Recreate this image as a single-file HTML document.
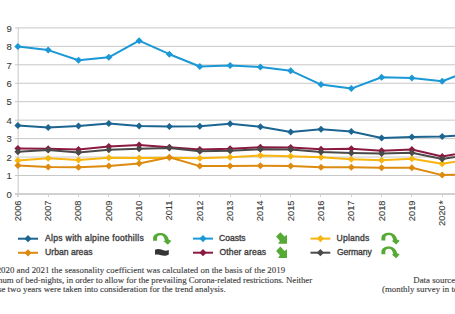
<!DOCTYPE html>
<html><head><meta charset="utf-8"><style>
html,body{margin:0;padding:0;background:#fff;}
body{width:455px;height:314px;overflow:hidden;position:relative;}
svg{position:absolute;left:0;top:0;}
.ax text{font-family:"Liberation Sans",sans-serif;font-size:9.3px;fill:#383838;stroke:#383838;stroke-width:0.1px;}
.ax text.yl{font-size:9.5px;}
.lg text{font-family:"Liberation Sans",sans-serif;font-size:8.6px;fill:#3e3e3e;stroke:#3e3e3e;stroke-width:0.35px;}
.fn{position:absolute;font-family:"Liberation Serif",serif;font-size:8.3px;color:#404040;white-space:nowrap;line-height:9.5px;}
</style></head><body>
<svg width="455" height="314" viewBox="0 0 455 314">
<g class="grid"><line x1="15" y1="175.5" x2="455" y2="175.5" stroke="#c8c8c8" stroke-width="1"/><line x1="15" y1="157.05" x2="455" y2="157.05" stroke="#c8c8c8" stroke-width="1"/><line x1="15" y1="138.6" x2="455" y2="138.6" stroke="#c8c8c8" stroke-width="1"/><line x1="15" y1="120.15" x2="455" y2="120.15" stroke="#c8c8c8" stroke-width="1"/><line x1="15" y1="101.7" x2="455" y2="101.7" stroke="#c8c8c8" stroke-width="1"/><line x1="15" y1="83.25" x2="455" y2="83.25" stroke="#c8c8c8" stroke-width="1"/><line x1="15" y1="64.8" x2="455" y2="64.8" stroke="#c8c8c8" stroke-width="1"/><line x1="15" y1="46.35" x2="455" y2="46.35" stroke="#c8c8c8" stroke-width="1"/><line x1="15" y1="27.9" x2="455" y2="27.9" stroke="#c8c8c8" stroke-width="1"/></g>
<line x1="18.2" y1="28" x2="18.2" y2="197" stroke="#c8c8c8" stroke-width="1"/>
<line x1="15" y1="194" x2="455" y2="194" stroke="#d0d0d0" stroke-width="2"/>
<g><line x1="17.5" y1="193" x2="17.5" y2="197" stroke="#d0d0d0" stroke-width="1"/><line x1="48.5" y1="193" x2="48.5" y2="197" stroke="#d0d0d0" stroke-width="1"/><line x1="78.5" y1="193" x2="78.5" y2="197" stroke="#d0d0d0" stroke-width="1"/><line x1="108.5" y1="193" x2="108.5" y2="197" stroke="#d0d0d0" stroke-width="1"/><line x1="139.5" y1="193" x2="139.5" y2="197" stroke="#d0d0d0" stroke-width="1"/><line x1="169.5" y1="193" x2="169.5" y2="197" stroke="#d0d0d0" stroke-width="1"/><line x1="199.5" y1="193" x2="199.5" y2="197" stroke="#d0d0d0" stroke-width="1"/><line x1="230.5" y1="193" x2="230.5" y2="197" stroke="#d0d0d0" stroke-width="1"/><line x1="260.5" y1="193" x2="260.5" y2="197" stroke="#d0d0d0" stroke-width="1"/><line x1="290.5" y1="193" x2="290.5" y2="197" stroke="#d0d0d0" stroke-width="1"/><line x1="320.5" y1="193" x2="320.5" y2="197" stroke="#d0d0d0" stroke-width="1"/><line x1="351.5" y1="193" x2="351.5" y2="197" stroke="#d0d0d0" stroke-width="1"/><line x1="381.5" y1="193" x2="381.5" y2="197" stroke="#d0d0d0" stroke-width="1"/><line x1="411.5" y1="193" x2="411.5" y2="197" stroke="#d0d0d0" stroke-width="1"/><line x1="442.5" y1="193" x2="442.5" y2="197" stroke="#d0d0d0" stroke-width="1"/><line x1="472.5" y1="193" x2="472.5" y2="197" stroke="#d0d0d0" stroke-width="1"/></g>
<g class="ax"><text class="yl" x="11.7" y="197.6" text-anchor="end">0</text><text class="yl" x="11.7" y="179.2" text-anchor="end">1</text><text class="yl" x="11.7" y="160.7" text-anchor="end">2</text><text class="yl" x="11.7" y="142.3" text-anchor="end">3</text><text class="yl" x="11.7" y="123.8" text-anchor="end">4</text><text class="yl" x="11.7" y="105.4" text-anchor="end">5</text><text class="yl" x="11.7" y="87.0" text-anchor="end">6</text><text class="yl" x="11.7" y="68.5" text-anchor="end">7</text><text class="yl" x="11.7" y="50.0" text-anchor="end">8</text><text class="yl" x="11.7" y="31.6" text-anchor="end">9</text><text transform="translate(20.8,200.5) rotate(-90)" text-anchor="end">2006</text><text transform="translate(51.1,200.5) rotate(-90)" text-anchor="end">2007</text><text transform="translate(81.4,200.5) rotate(-90)" text-anchor="end">2008</text><text transform="translate(111.7,200.5) rotate(-90)" text-anchor="end">2009</text><text transform="translate(142.0,200.5) rotate(-90)" text-anchor="end">2010</text><text transform="translate(172.3,200.5) rotate(-90)" text-anchor="end">2011</text><text transform="translate(202.7,200.5) rotate(-90)" text-anchor="end">2012</text><text transform="translate(233.0,200.5) rotate(-90)" text-anchor="end">2013</text><text transform="translate(263.3,200.5) rotate(-90)" text-anchor="end">2014</text><text transform="translate(293.6,200.5) rotate(-90)" text-anchor="end">2015</text><text transform="translate(323.9,200.5) rotate(-90)" text-anchor="end">2016</text><text transform="translate(354.2,200.5) rotate(-90)" text-anchor="end">2017</text><text transform="translate(384.5,200.5) rotate(-90)" text-anchor="end">2018</text><text transform="translate(414.8,200.5) rotate(-90)" text-anchor="end">2019</text><text transform="translate(445.1,205.3) rotate(-90)" text-anchor="end">2020</text><text transform="translate(446.8,200.4) rotate(-90)" text-anchor="end" style="font-size:10px">*</text></g>
<g><polyline points="17.9,125.4 48.2,127.4 78.5,125.9 108.8,123.5 139.1,125.9 169.4,126.5 199.8,126.2 230.1,123.7 260.4,126.8 290.7,132 321.0,129.2 351.3,131.4 381.6,138.1 411.9,136.9 442.2,136.5 472.5,135.0" fill="none" stroke="#1c6591" stroke-width="2" stroke-linejoin="round"/><path d="M17.9 121.9L21.4 125.4L17.9 128.9L14.4 125.4Z" fill="#1c6591"/><path d="M48.2 123.9L51.7 127.4L48.2 130.9L44.7 127.4Z" fill="#1c6591"/><path d="M78.5 122.4L82.0 125.9L78.5 129.4L75.0 125.9Z" fill="#1c6591"/><path d="M108.8 120.0L112.3 123.5L108.8 127.0L105.3 123.5Z" fill="#1c6591"/><path d="M139.1 122.4L142.6 125.9L139.1 129.4L135.6 125.9Z" fill="#1c6591"/><path d="M169.4 123.0L172.9 126.5L169.4 130.0L165.9 126.5Z" fill="#1c6591"/><path d="M199.8 122.7L203.3 126.2L199.8 129.7L196.3 126.2Z" fill="#1c6591"/><path d="M230.1 120.2L233.6 123.7L230.1 127.2L226.6 123.7Z" fill="#1c6591"/><path d="M260.4 123.3L263.9 126.8L260.4 130.3L256.9 126.8Z" fill="#1c6591"/><path d="M290.7 128.5L294.2 132.0L290.7 135.5L287.2 132.0Z" fill="#1c6591"/><path d="M321.0 125.7L324.5 129.2L321.0 132.7L317.5 129.2Z" fill="#1c6591"/><path d="M351.3 127.9L354.8 131.4L351.3 134.9L347.8 131.4Z" fill="#1c6591"/><path d="M381.6 134.6L385.1 138.1L381.6 141.6L378.1 138.1Z" fill="#1c6591"/><path d="M411.9 133.4L415.4 136.9L411.9 140.4L408.4 136.9Z" fill="#1c6591"/><path d="M442.2 133.0L445.7 136.5L442.2 140.0L438.7 136.5Z" fill="#1c6591"/><path d="M472.5 131.5L476.0 135.0L472.5 138.5L469.0 135.0Z" fill="#1c6591"/><polyline points="17.9,46.5 48.2,50.1 78.5,60.2 108.8,57.3 139.1,40.7 169.4,54.2 199.8,66.5 230.1,65.4 260.4,66.9 290.7,70.7 321.0,84.6 351.3,88.6 381.6,77.2 411.9,77.9 442.2,81.2 472.5,69.7" fill="none" stroke="#1b98d5" stroke-width="2" stroke-linejoin="round"/><path d="M17.9 43.0L21.4 46.5L17.9 50.0L14.4 46.5Z" fill="#1b98d5"/><path d="M48.2 46.6L51.7 50.1L48.2 53.6L44.7 50.1Z" fill="#1b98d5"/><path d="M78.5 56.7L82.0 60.2L78.5 63.7L75.0 60.2Z" fill="#1b98d5"/><path d="M108.8 53.8L112.3 57.3L108.8 60.8L105.3 57.3Z" fill="#1b98d5"/><path d="M139.1 37.2L142.6 40.7L139.1 44.2L135.6 40.7Z" fill="#1b98d5"/><path d="M169.4 50.7L172.9 54.2L169.4 57.7L165.9 54.2Z" fill="#1b98d5"/><path d="M199.8 63.0L203.3 66.5L199.8 70.0L196.3 66.5Z" fill="#1b98d5"/><path d="M230.1 61.9L233.6 65.4L230.1 68.9L226.6 65.4Z" fill="#1b98d5"/><path d="M260.4 63.4L263.9 66.9L260.4 70.4L256.9 66.9Z" fill="#1b98d5"/><path d="M290.7 67.2L294.2 70.7L290.7 74.2L287.2 70.7Z" fill="#1b98d5"/><path d="M321.0 81.1L324.5 84.6L321.0 88.1L317.5 84.6Z" fill="#1b98d5"/><path d="M351.3 85.1L354.8 88.6L351.3 92.1L347.8 88.6Z" fill="#1b98d5"/><path d="M381.6 73.7L385.1 77.2L381.6 80.7L378.1 77.2Z" fill="#1b98d5"/><path d="M411.9 74.4L415.4 77.9L411.9 81.4L408.4 77.9Z" fill="#1b98d5"/><path d="M442.2 77.7L445.7 81.2L442.2 84.7L438.7 81.2Z" fill="#1b98d5"/><path d="M472.5 66.2L476.0 69.7L472.5 73.2L469.0 69.7Z" fill="#1b98d5"/><polyline points="17.9,148.4 48.2,148.79999999999998 78.5,149.5 108.8,146.4 139.1,145.1 169.4,147.2 199.8,149.5 230.1,148.79999999999998 260.4,147.2 290.7,147.5 321.0,149.2 351.3,148.79999999999998 381.6,150.7 411.9,149.6 442.2,156.4 472.5,151.5" fill="none" stroke="#8b1a43" stroke-width="2" stroke-linejoin="round"/><path d="M17.9 144.9L21.4 148.4L17.9 151.9L14.4 148.4Z" fill="#8b1a43"/><path d="M48.2 145.3L51.7 148.8L48.2 152.3L44.7 148.8Z" fill="#8b1a43"/><path d="M78.5 146.0L82.0 149.5L78.5 153.0L75.0 149.5Z" fill="#8b1a43"/><path d="M108.8 142.9L112.3 146.4L108.8 149.9L105.3 146.4Z" fill="#8b1a43"/><path d="M139.1 141.6L142.6 145.1L139.1 148.6L135.6 145.1Z" fill="#8b1a43"/><path d="M169.4 143.7L172.9 147.2L169.4 150.7L165.9 147.2Z" fill="#8b1a43"/><path d="M199.8 146.0L203.3 149.5L199.8 153.0L196.3 149.5Z" fill="#8b1a43"/><path d="M230.1 145.3L233.6 148.8L230.1 152.3L226.6 148.8Z" fill="#8b1a43"/><path d="M260.4 143.7L263.9 147.2L260.4 150.7L256.9 147.2Z" fill="#8b1a43"/><path d="M290.7 144.0L294.2 147.5L290.7 151.0L287.2 147.5Z" fill="#8b1a43"/><path d="M321.0 145.7L324.5 149.2L321.0 152.7L317.5 149.2Z" fill="#8b1a43"/><path d="M351.3 145.3L354.8 148.8L351.3 152.3L347.8 148.8Z" fill="#8b1a43"/><path d="M381.6 147.2L385.1 150.7L381.6 154.2L378.1 150.7Z" fill="#8b1a43"/><path d="M411.9 146.1L415.4 149.6L411.9 153.1L408.4 149.6Z" fill="#8b1a43"/><path d="M442.2 152.9L445.7 156.4L442.2 159.9L438.7 156.4Z" fill="#8b1a43"/><path d="M472.5 148.0L476.0 151.5L472.5 155.0L469.0 151.5Z" fill="#8b1a43"/><polyline points="17.9,160.6 48.2,158.2 78.5,159.9 108.8,157.7 139.1,157.9 169.4,157.7 199.8,158.2 230.1,157.3 260.4,155.6 290.7,156.3 321.0,157.3 351.3,159.2 381.6,160.2 411.9,158.7 442.2,163.7 472.5,159.2" fill="none" stroke="#f8b50f" stroke-width="2" stroke-linejoin="round"/><path d="M17.9 157.1L21.4 160.6L17.9 164.1L14.4 160.6Z" fill="#f8b50f"/><path d="M48.2 154.7L51.7 158.2L48.2 161.7L44.7 158.2Z" fill="#f8b50f"/><path d="M78.5 156.4L82.0 159.9L78.5 163.4L75.0 159.9Z" fill="#f8b50f"/><path d="M108.8 154.2L112.3 157.7L108.8 161.2L105.3 157.7Z" fill="#f8b50f"/><path d="M139.1 154.4L142.6 157.9L139.1 161.4L135.6 157.9Z" fill="#f8b50f"/><path d="M169.4 154.2L172.9 157.7L169.4 161.2L165.9 157.7Z" fill="#f8b50f"/><path d="M199.8 154.7L203.3 158.2L199.8 161.7L196.3 158.2Z" fill="#f8b50f"/><path d="M230.1 153.8L233.6 157.3L230.1 160.8L226.6 157.3Z" fill="#f8b50f"/><path d="M260.4 152.1L263.9 155.6L260.4 159.1L256.9 155.6Z" fill="#f8b50f"/><path d="M290.7 152.8L294.2 156.3L290.7 159.8L287.2 156.3Z" fill="#f8b50f"/><path d="M321.0 153.8L324.5 157.3L321.0 160.8L317.5 157.3Z" fill="#f8b50f"/><path d="M351.3 155.7L354.8 159.2L351.3 162.7L347.8 159.2Z" fill="#f8b50f"/><path d="M381.6 156.7L385.1 160.2L381.6 163.7L378.1 160.2Z" fill="#f8b50f"/><path d="M411.9 155.2L415.4 158.7L411.9 162.2L408.4 158.7Z" fill="#f8b50f"/><path d="M442.2 160.2L445.7 163.7L442.2 167.2L438.7 163.7Z" fill="#f8b50f"/><path d="M472.5 155.7L476.0 159.2L472.5 162.7L469.0 159.2Z" fill="#f8b50f"/><polyline points="17.9,151.7 48.2,150.1 78.5,152.5 108.8,149.79999999999998 139.1,148.79999999999998 169.4,148.1 199.8,151.2 230.1,150.79999999999998 260.4,149.2 290.7,149.5 321.0,152.1 351.3,153.1 381.6,153.6 411.9,152.79999999999998 442.2,159.0 472.5,154.5" fill="none" stroke="#4a4a4a" stroke-width="2" stroke-linejoin="round"/><path d="M17.9 148.2L21.4 151.7L17.9 155.2L14.4 151.7Z" fill="#4a4a4a"/><path d="M48.2 146.6L51.7 150.1L48.2 153.6L44.7 150.1Z" fill="#4a4a4a"/><path d="M78.5 149.0L82.0 152.5L78.5 156.0L75.0 152.5Z" fill="#4a4a4a"/><path d="M108.8 146.3L112.3 149.8L108.8 153.3L105.3 149.8Z" fill="#4a4a4a"/><path d="M139.1 145.3L142.6 148.8L139.1 152.3L135.6 148.8Z" fill="#4a4a4a"/><path d="M169.4 144.6L172.9 148.1L169.4 151.6L165.9 148.1Z" fill="#4a4a4a"/><path d="M199.8 147.7L203.3 151.2L199.8 154.7L196.3 151.2Z" fill="#4a4a4a"/><path d="M230.1 147.3L233.6 150.8L230.1 154.3L226.6 150.8Z" fill="#4a4a4a"/><path d="M260.4 145.7L263.9 149.2L260.4 152.7L256.9 149.2Z" fill="#4a4a4a"/><path d="M290.7 146.0L294.2 149.5L290.7 153.0L287.2 149.5Z" fill="#4a4a4a"/><path d="M321.0 148.6L324.5 152.1L321.0 155.6L317.5 152.1Z" fill="#4a4a4a"/><path d="M351.3 149.6L354.8 153.1L351.3 156.6L347.8 153.1Z" fill="#4a4a4a"/><path d="M381.6 150.1L385.1 153.6L381.6 157.1L378.1 153.6Z" fill="#4a4a4a"/><path d="M411.9 149.3L415.4 152.8L411.9 156.3L408.4 152.8Z" fill="#4a4a4a"/><path d="M442.2 155.5L445.7 159.0L442.2 162.5L438.7 159.0Z" fill="#4a4a4a"/><path d="M472.5 151.0L476.0 154.5L472.5 158.0L469.0 154.5Z" fill="#4a4a4a"/><polyline points="17.9,165.4 48.2,166.9 78.5,167.2 108.8,166.1 139.1,163.6 169.4,157.3 199.8,166.1 230.1,166.1 260.4,165.8 290.7,166.1 321.0,167.2 351.3,167.2 381.6,167.7 411.9,167.8 442.2,175.1 472.5,174.1" fill="none" stroke="#dd8a10" stroke-width="2" stroke-linejoin="round"/><path d="M17.9 161.9L21.4 165.4L17.9 168.9L14.4 165.4Z" fill="#dd8a10"/><path d="M48.2 163.4L51.7 166.9L48.2 170.4L44.7 166.9Z" fill="#dd8a10"/><path d="M78.5 163.7L82.0 167.2L78.5 170.7L75.0 167.2Z" fill="#dd8a10"/><path d="M108.8 162.6L112.3 166.1L108.8 169.6L105.3 166.1Z" fill="#dd8a10"/><path d="M139.1 160.1L142.6 163.6L139.1 167.1L135.6 163.6Z" fill="#dd8a10"/><path d="M169.4 153.8L172.9 157.3L169.4 160.8L165.9 157.3Z" fill="#dd8a10"/><path d="M199.8 162.6L203.3 166.1L199.8 169.6L196.3 166.1Z" fill="#dd8a10"/><path d="M230.1 162.6L233.6 166.1L230.1 169.6L226.6 166.1Z" fill="#dd8a10"/><path d="M260.4 162.3L263.9 165.8L260.4 169.3L256.9 165.8Z" fill="#dd8a10"/><path d="M290.7 162.6L294.2 166.1L290.7 169.6L287.2 166.1Z" fill="#dd8a10"/><path d="M321.0 163.7L324.5 167.2L321.0 170.7L317.5 167.2Z" fill="#dd8a10"/><path d="M351.3 163.7L354.8 167.2L351.3 170.7L347.8 167.2Z" fill="#dd8a10"/><path d="M381.6 164.2L385.1 167.7L381.6 171.2L378.1 167.7Z" fill="#dd8a10"/><path d="M411.9 164.3L415.4 167.8L411.9 171.3L408.4 167.8Z" fill="#dd8a10"/><path d="M442.2 171.6L445.7 175.1L442.2 178.6L438.7 175.1Z" fill="#dd8a10"/><path d="M472.5 170.6L476.0 174.1L472.5 177.6L469.0 174.1Z" fill="#dd8a10"/></g>
<g class="lg"><line x1="18" y1="238.7" x2="38" y2="238.7" stroke="#1c6591" stroke-width="2"/><path d="M28.0 235.1L31.6 238.7L28.0 242.29999999999998L24.4 238.7Z" fill="#1c6591"/><line x1="18" y1="252.8" x2="38" y2="252.8" stroke="#dd8a10" stroke-width="2"/><path d="M28.0 249.20000000000002L31.6 252.8L28.0 256.40000000000003L24.4 252.8Z" fill="#dd8a10"/><line x1="193" y1="238.6" x2="213" y2="238.6" stroke="#1b98d5" stroke-width="2"/><path d="M203.0 235.0L206.6 238.6L203.0 242.2L199.4 238.6Z" fill="#1b98d5"/><line x1="193" y1="252.7" x2="213" y2="252.7" stroke="#8b1a43" stroke-width="2"/><path d="M203.0 249.1L206.6 252.7L203.0 256.3L199.4 252.7Z" fill="#8b1a43"/><line x1="310.5" y1="238.6" x2="330.3" y2="238.6" stroke="#f8b50f" stroke-width="2"/><path d="M320.4 235.0L324.0 238.6L320.4 242.2L316.79999999999995 238.6Z" fill="#f8b50f"/><line x1="310.5" y1="252.7" x2="330.3" y2="252.7" stroke="#4a4a4a" stroke-width="2"/><path d="M320.4 249.1L324.0 252.7L320.4 256.3L316.79999999999995 252.7Z" fill="#4a4a4a"/><g transform="translate(150.7,231.2)"><path d="M2.42,9.43 L2.42,6.77 C2.42,3.87 5.8,1.84 9.91,1.84 C14.02,1.84 16.92,4.35 18.13,8.46 L20.7,9.67 L17.2,13.5 L12.7,9.8 L14.26,9.43 C13.54,5.8 12.09,4.1 9.91,4.1 C7.74,4.1 6.29,5.32 6.29,7.25 L6.29,9.43 Z" fill="#55a935"/></g><path d="M155,249.8 C157,248.6 159.5,248.8 161.5,249.6 C163.5,250.6 166,251.2 168.8,249.9 L168.8,254.4 C166.5,255.9 163.5,256.0 161.0,255.2 C159,254.6 157,254.3 155,254.8 Z" fill="#353535"/><path transform="translate(0,0)" d="M280.4,232.3 L284.5,236.6 L287,234.85 L287,243.8 L278.1,243.8 L279.9,241 L276.1,236.6 Z" fill="#55a935"/><path transform="translate(0,14.3)" d="M280.4,232.3 L284.5,236.6 L287,234.85 L287,243.8 L278.1,243.8 L279.9,241 L276.1,236.6 Z" fill="#55a935"/><g transform="translate(379,231)"><path d="M2.42,9.43 L2.42,6.77 C2.42,3.87 5.8,1.84 9.91,1.84 C14.02,1.84 16.92,4.35 18.13,8.46 L20.7,9.67 L17.2,13.5 L12.7,9.8 L14.26,9.43 C13.54,5.8 12.09,4.1 9.91,4.1 C7.74,4.1 6.29,5.32 6.29,7.25 L6.29,9.43 Z" fill="#55a935"/></g><g transform="translate(379,244.7)"><path d="M2.42,9.43 L2.42,6.77 C2.42,3.87 5.8,1.84 9.91,1.84 C14.02,1.84 16.92,4.35 18.13,8.46 L20.7,9.67 L17.2,13.5 L12.7,9.8 L14.26,9.43 C13.54,5.8 12.09,4.1 9.91,4.1 C7.74,4.1 6.29,5.32 6.29,7.25 L6.29,9.43 Z" fill="#55a935"/></g>
<text x="45" y="241.2" textLength="98.8" lengthAdjust="spacing">Alps with alpine foothills</text>
<text x="45" y="255.4" textLength="47.5" lengthAdjust="spacing">Urban areas</text>
<text x="219" y="241.2" textLength="26.6" lengthAdjust="spacing">Coasts</text>
<text x="219.5" y="255.4" textLength="46.6" lengthAdjust="spacing">Other areas</text>
<text x="336.6" y="241.2" textLength="32.6" lengthAdjust="spacing">Uplands</text>
<text x="336.9" y="255" textLength="34.9" lengthAdjust="spacing">Germany</text>
</g>
<g style="font-family:'Liberation Serif',serif;font-size:8.84px;fill:#404040;stroke:#404040;stroke-width:0.12px">
<text x="-13.0" y="273.2" textLength="298.1" lengthAdjust="spacing">In 2020 and 2021 the seasonality coefficient was calculated on the basis of the 2019</text>
<text x="-20.3" y="283.0" textLength="332.4" lengthAdjust="spacing">minimum of bed-nights, in order to allow for the prevailing Corona-related restrictions. Neither</text>
<text x="-12.6" y="292.4" textLength="238.2" lengthAdjust="spacing">these two years were taken into consideration for the trend analysis.</text>
<text x="413.3" y="282.8">Data source:</text>
<text x="382" y="292.2">(monthly survey in tourism)</text>
</g>
</svg>
</body></html>
